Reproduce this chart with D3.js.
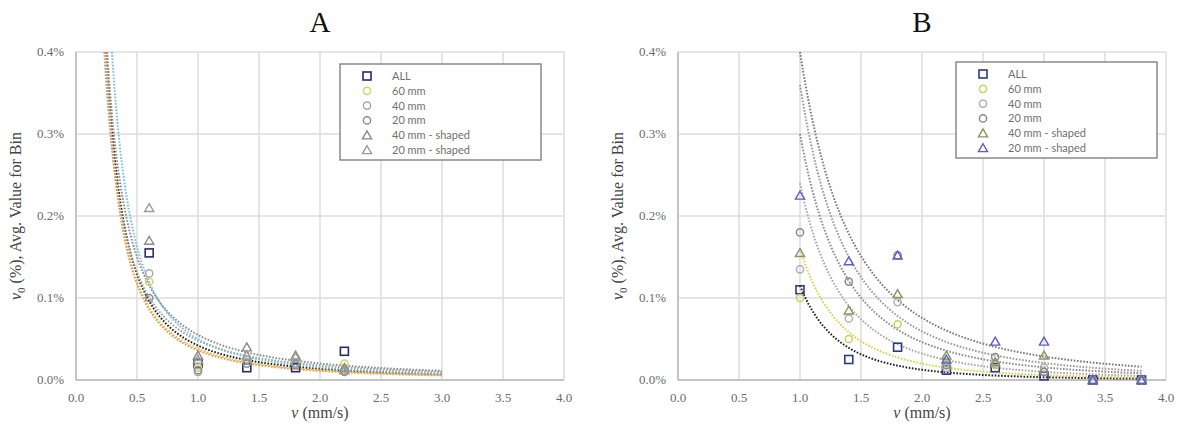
<!DOCTYPE html>
<html lang="en">
<head>
<meta charset="UTF-8">
<title>v0 vs v</title>
<script src="https://d3js.org/d3.v7.min.js"></script>
<style>
    body { margin: 0; background: #fff; }
    .tick-label { font-family: "Liberation Serif", serif; font-size: 13px; fill: #6a6a6a; }
    .panel-title { font-family: "Liberation Serif", serif; font-size: 29px; fill: #111; }
    .axis-title { font-family: "Liberation Serif", serif; font-size: 16px; fill: #444; }
    .legend-text { font-family: "Lato", "Open Sans", sans-serif; font-size: 11px; fill: #707070; }
</style>
</head>
<body>
<div id="chart"></div>
<script>
// series shared by both panels
const seriesNames = ["ALL", "60 mm", "40 mm", "20 mm", "40 mm - shaped", "20 mm - shaped"];
const seriesShapes = ["square", "circle", "circle", "circle", "triangle", "triangle"];
const colorsA = ["#262c6a", "#cfd46a", "#a8a8a8", "#8f8f8f", "#8a8a8a", "#9a9a9a"];
const colorsB = ["#2e3a86", "#c9cf5a", "#b0b0b0", "#8a8a8a", "#8a9560", "#5b5fc6"];
const trendA = ["#222222", "#e3c23c", "#a0a0a0", "#e59a5e", "#8c8c8c", "#74bfe0"];
const trendB = ["#222222", "#d9cf4a", "#a8a8a8", "#8c8c8c", "#9a9a9a", "#7a7a7a"];

const xTicks = [0, 0.5, 1, 1.5, 2, 2.5, 3, 3.5, 4];
const yTicks = [0, 0.1, 0.2, 0.3, 0.4];

// panel A (values in %)
const xA = [0.6, 1.0, 1.4, 1.8, 2.2];
const yA = [
    [0.155, 0.020, 0.015, 0.015, 0.035],
    [0.120, 0.015, 0.025, 0.020, 0.020],
    [0.130, 0.010, 0.025, 0.020, 0.012],
    [0.100, 0.012, 0.020, 0.018, 0.010],
    [0.170, 0.030, 0.040, 0.030, 0.015],
    [0.210, 0.025, 0.030, 0.028, 0.012]
];
// power trendlines y = a * x^-b
const trendA_a = [0.042, 0.038, 0.048, 0.036, 0.055, 0.050];
const trendA_b = [1.62, 1.65, 1.45, 1.70, 1.45, 1.70];
const trendA_range = [0.2, 3.0];

// panel B (values in %)
const xB = [1.0, 1.4, 1.8, 2.2, 2.6, 3.0, 3.4, 3.8];
const yB = [
    [0.110, 0.025, 0.040, 0.012, 0.015, 0.005, 0.000, 0.000],
    [0.100, 0.050, 0.068, 0.020, 0.018, 0.010, 0.000, 0.000],
    [0.135, 0.075, 0.095, 0.015, 0.020, 0.015, 0.000, 0.000],
    [0.180, 0.120, 0.152, 0.018, 0.028, 0.010, 0.000, 0.000],
    [0.155, 0.085, 0.105, 0.030, 0.022, 0.030, 0.000, 0.000],
    [0.225, 0.145, 0.152, 0.025, 0.047, 0.047, 0.000, 0.000]
];
const trendB_a = [0.115, 0.160, 0.240, 0.300, 0.360, 0.400];
const trendB_b = [3.2, 3.0, 2.9, 2.7, 2.6, 2.4];
const trendB_range = [1.0, 3.8];

const W = 1180, H = 436;
const svg = d3.select("#chart").append("svg")
    .attr("width", W).attr("height", H);

function marker(g, shape, color, x, y) {
    if (shape === "square") {
        g.append("rect").attr("x", x - 4).attr("y", y - 4)
            .attr("width", 8).attr("height", 8)
            .attr("fill", "none").attr("stroke", color).attr("stroke-width", 1.6);
    } else if (shape === "circle") {
        g.append("circle").attr("cx", x).attr("cy", y).attr("r", 3.6)
            .attr("fill", "none").attr("stroke", color).attr("stroke-width", 1.5);
    } else {
        g.append("path")
            .attr("d", d3.symbol(d3.symbolTriangle, 36)())
            .attr("transform", `translate(${x},${y + 1})`)
            .attr("fill", "none").attr("stroke", color).attr("stroke-width", 1.4);
    }
}

function drawPanel(opt) {
    const x = d3.scaleLinear().domain([0, 4]).range([opt.left, opt.left + 488]);
    const y = d3.scaleLinear().domain([0, 0.4]).range([380, 52]);
    const g = svg.append("g");

    // grid
    g.append("g").selectAll("line").data(xTicks).join("line")
        .attr("x1", d => x(d)).attr("x2", d => x(d))
        .attr("y1", y(0.4)).attr("y2", y(0))
        .attr("stroke", "#dcdcdc").attr("stroke-width", 1.5);
    g.append("g").selectAll("line").data(yTicks).join("line")
        .attr("x1", x(0)).attr("x2", x(4))
        .attr("y1", d => y(d)).attr("y2", d => y(d))
        .attr("stroke", "#dcdcdc").attr("stroke-width", 1.5);
    g.append("line").attr("x1", x(0)).attr("x2", x(4))
        .attr("y1", y(0)).attr("y2", y(0))
        .attr("stroke", "#c4c4c4").attr("stroke-width", 2);
    g.append("line").attr("x1", x(0)).attr("x2", x(0))
        .attr("y1", y(0)).attr("y2", y(0.4))
        .attr("stroke", "#c4c4c4").attr("stroke-width", 2);

    // tick labels
    g.append("g").selectAll("text").data(xTicks).join("text")
        .attr("class", "tick-label")
        .attr("x", d => x(d)).attr("y", y(0) + 22)
        .attr("text-anchor", "middle")
        .text(d => d3.format(".1f")(d));
    g.append("g").selectAll("text").data(yTicks).join("text")
        .attr("class", "tick-label")
        .attr("x", x(0) - 12).attr("y", d => y(d) + 4)
        .attr("text-anchor", "end")
        .text(d => d3.format(".1f")(d) + "%");

    // trendlines
    const line = d3.line().x(d => x(d[0])).y(d => y(d[1]));
    opt.ta.forEach((a, i) => {
        const b = opt.tb[i];
        const x0 = Math.max(opt.range[0], Math.pow(a / 0.4, 1 / b));
        const pts = d3.range(0, 121).map(k => {
            const xv = x0 + (opt.range[1] - x0) * k / 120;
            return [xv, a * Math.pow(xv, -b)];
        });
        g.append("path").datum(pts)
            .attr("d", line)
            .attr("fill", "none")
            .attr("stroke", opt.trend[i])
            .attr("stroke-width", 2)
            .attr("stroke-dasharray", "1.6,1.6");
    });

    // points
    opt.ys.forEach((vals, i) => {
        vals.forEach((v, j) => marker(g, seriesShapes[i], opt.colors[i], x(opt.xs[j]), y(v)));
    });

    // titles
    g.append("text").attr("class", "panel-title")
        .attr("x", x(2)).attr("y", 32).attr("text-anchor", "middle")
        .text(opt.title);
    const xt = g.append("text").attr("class", "axis-title")
        .attr("x", x(2)).attr("y", 418).attr("text-anchor", "middle");
    xt.append("tspan").attr("font-style", "italic").text("v");
    xt.append("tspan").text(" (mm/s)");
    const yt = g.append("text").attr("class", "axis-title")
        .attr("transform", `translate(${x(0) - 55},${y(0.2)}) rotate(-90)`)
        .attr("text-anchor", "middle");
    yt.append("tspan").attr("font-style", "italic").text("v");
    yt.append("tspan").attr("font-size", "11px").attr("dy", 4).text("0");
    yt.append("tspan").attr("dy", -4).text(" (%), Avg. Value for Bin");

    // legend
    const lg = g.append("g").attr("transform", `translate(${opt.legend[0]},${opt.legend[1]})`);
    lg.append("rect").attr("width", 201).attr("height", 96)
        .attr("fill", "#fff").attr("stroke", "#8a8a8a").attr("stroke-width", 1.5);
    seriesNames.forEach((name, i) => {
        marker(lg, seriesShapes[i], opt.colors[i], 27, 12 + i * 14.8);
        lg.append("text").attr("class", "legend-text")
            .attr("x", 52).attr("y", 16 + i * 14.8).text(name);
    });
}

drawPanel({ title: "A", left: 76, xs: xA, ys: yA, ta: trendA_a, tb: trendA_b, range: trendA_range,
    colors: colorsA, trend: trendA, legend: [340, 64] });
drawPanel({ title: "B", left: 678, xs: xB, ys: yB, ta: trendB_a, tb: trendB_b, range: trendB_range,
    colors: colorsB, trend: trendB, legend: [956, 62] });
</script>
</body>
</html>
